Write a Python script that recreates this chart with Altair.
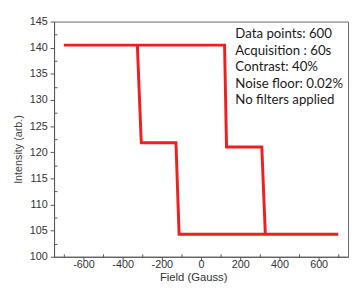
import altair as alt
import pandas as pd

# Sweep up (field increasing)
up_field = [-700, 120, 130, 310, 328, 700]
up_intensity = [140.5, 140.5, 121.0, 121.0, 104.3, 104.3]
# Sweep down (field decreasing)
down_field = [700, -112, -128, -305, -325, -700]
down_intensity = [104.3, 104.3, 121.8, 121.8, 140.5, 140.5]

x_ticks = list(range(-700, 701, 100))
y_ticks = [100 + 2.5 * i for i in range(19)]

info_lines = ["Data points: 600", "Acquisition : 60s", "Contrast: 40%",
              "Noise floor: 0.02%", "No filters applied"]

fields = up_field + down_field
vals = up_intensity + down_intensity
df = pd.DataFrame({"field": fields, "intensity": vals, "order": list(range(len(fields)))})

x_axis = alt.Axis(
    values=x_ticks,
    labelExpr="datum.value % 200 == 0 ? '' + datum.value : ''",
    tickSize={"expr": "datum.value % 200 == 0 ? 4 : -3"},
    title="Field (Gauss)", titleFont="Liberation Sans", titleFontSize=11.5,
    titleFontWeight="normal", titleColor="#333", titlePadding=2, titleX=142,
    labelFont="Liberation Sans", labelFontSize=11, labelColor="#333",
    domainColor="#555", tickColor="#555", grid=False, labelPadding=-2,
)
y_axis = alt.Axis(
    values=y_ticks,
    labelExpr="datum.value % 5 == 0 ? '' + datum.value : ''",
    tickSize={"expr": "datum.value % 5 == 0 ? 4 : -3"},
    title="Intensity (arb.)", titleFont="Liberation Sans", titleFontSize=11,
    titleFontWeight="normal", titleColor="#444", titlePadding=6, titleY=130,
    labelFont="Liberation Sans", labelFontSize=11, labelColor="#333",
    domainColor="#555", tickColor="#555", grid=False, labelPadding=3,
)

line = alt.Chart(df).mark_line(color="#f01e1e", strokeWidth=3).encode(
    x=alt.X("field:Q", scale=alt.Scale(domain=[-750, 750], nice=False), axis=x_axis),
    y=alt.Y("intensity:Q", scale=alt.Scale(domain=[100, 145], nice=False, zero=False), axis=y_axis),
    order="order:Q",
)

text = alt.Chart(pd.DataFrame({"t": [0]})).mark_text(
    align="left", baseline="top", font="Lato", fontSize=13.5, lineHeight=16.8,
    color="#1a1a1a", text=info_lines,
).encode(x=alt.value(185), y=alt.value(6))

chart = alt.layer(line, text).properties(
    width=300, height=240,
    autosize=alt.AutoSizeParams(type="none"),
    padding={"left": 47, "top": 11, "right": 2, "bottom": 28},
).configure_view(stroke="#666", strokeWidth=1)

chart.save("out.html", embed_options={"renderer": "svg", "actions": False})
